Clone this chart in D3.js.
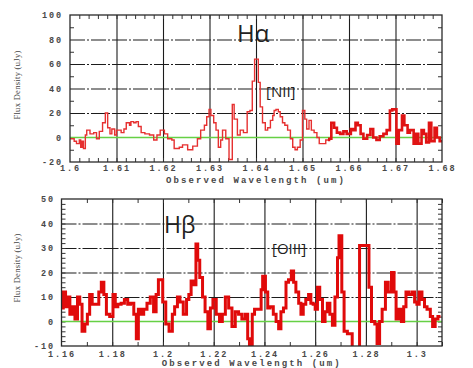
<!DOCTYPE html>
<html>
<head>
<meta charset="utf-8">
<script src="https://cdn.jsdelivr.net/npm/d3@7"></script>
<style>
  body { margin: 0; background: #fff; }
  svg { display: block; }
  .lbl text { font-family: "Liberation Mono", monospace; font-size: 8.5px; font-weight: bold; fill: #484848; letter-spacing: 1.9px; }
</style>
</head>
<body>
<div id="chart"></div>
<script>
// ---- H-alpha panel (top) ----
const haWave = [1.6000,1.6009,1.6014,1.6020,1.6023,1.6026,1.6029,1.6033,1.6036,1.6043,1.6051,1.6057,1.6063,1.6070,
  1.6076,1.6081,1.6086,1.6090,1.6096,1.6100,1.6110,1.6116,1.6121,1.6128,1.6131,1.6137,1.6142,1.6147,1.6153,1.6161,
  1.6171,1.6180,1.6187,1.6194,1.6203,1.6210,1.6219,1.6224,1.6235,1.6242,1.6253,1.6264,1.6274,1.6281,1.6289,1.6294,
  1.6299,1.6303,1.6309,1.6314,1.6319,1.6324,1.6328,1.6335,1.6342,1.6349,1.6353,1.6360,1.6366,1.6373,1.6381,1.6387,
  1.6392,1.6397,1.6405,1.6409,1.6414,1.6420,1.6425,1.6431,1.6436,1.6439,1.6443,1.6448,1.6452,1.6457,1.6462,1.6468,
  1.6474,1.6479,1.6484,1.6489,1.6495,1.6500,1.6505,1.6509,1.6514,1.6519,1.6525,1.6531,1.6536,1.6550,1.6557,1.6562,
  1.6568,1.6574,1.6581,1.6588,1.6595,1.6604,1.6609,1.6614,1.6619,1.6625,1.6631,1.6639,1.6646,1.6652,1.6659,1.6666,
  1.6674,1.6681,1.6688,1.6693,1.6702,1.6707,1.6714,1.6719,1.6726,1.6731,1.6739,1.6744,1.6749,1.6756,1.6761,1.6766,
  1.6772,1.6777,1.6784,1.6789,1.6795,1.6800];
const haFlux = [-1,-3,-5,-2,-8,-3,-9,2,6,3,4,-1,5,12,
  20,8,3,7,2,6,4,7,12,10,13,12,13,9,4,3,
  2,-2,2,6,3,-1,-2,-9,-8,-6,-10,-7,-1,6,10,17,
  23,18,12,6,-8,-2,6,-1,-18,27,15,2,6,4,21,22,
  46,64,45,25,12,6,8,14,18,22,23,21,17,12,10,6,
  -1,-8,-10,-8,-2,22,15,7,14,6,4,0,-5,-2,-1,12,
  8,4,3,5,3,7,6,12,10,3,-1,2,7,0,-2,1,
  3,6,22,23,-5,6,18,10,4,6,-5,3,-5,6,3,-4,
  12,-3,8,0,-3,-3];
const haXTicks = [1.60,1.61,1.62,1.63,1.64,1.65,1.66,1.67,1.68];
const haXLabels = ["1.6","1.61","1.62","1.63","1.64","1.65","1.66","1.67","1.68"];
const haYTicks = [100,80,60,40,20,0,-20];
const haYLabels = ["100","80","60","40","20","0","-20"];

// ---- H-beta panel (bottom) ----
const hbWave = [1.1600,1.1607,1.1616,1.1624,1.1633,1.1642,1.1653,1.1663,1.1672,1.1681,1.1692,1.1702,1.1711,1.1721,
  1.1747,1.1757,1.1767,1.1777,1.1790,1.1803,1.1812,1.1822,1.1835,1.1848,1.1861,1.1872,1.1885,1.1895,1.1903,1.1913,
  1.1924,1.1937,1.1950,1.1963,1.1973,1.1982,1.1999,1.2011,1.2024,1.2037,1.2046,1.2057,1.2067,1.2080,1.2093,1.2102,
  1.2111,1.2122,1.2130,1.2137,1.2145,1.2156,1.2166,1.2177,1.2187,1.2197,1.2210,1.2223,1.2234,1.2246,1.2259,1.2272,
  1.2285,1.2298,1.2311,1.2324,1.2334,1.2341,1.2352,1.2361,1.2387,1.2393,1.2404,1.2413,1.2422,1.2435,1.2446,1.2456,
  1.2465,1.2475,1.2485,1.2495,1.2506,1.2515,1.2524,1.2535,1.2544,1.2553,1.2563,1.2574,1.2583,1.2592,1.2600,1.2609,
  1.2618,1.2629,1.2639,1.2648,1.2658,1.2668,1.2678,1.2688,1.2694,1.2705,1.2714,1.2727,1.2746,1.2775,1.2812,1.2822,
  1.2835,1.2844,1.2854,1.2864,1.2877,1.2888,1.2901,1.2911,1.2919,1.2929,1.2940,1.2949,1.2958,1.2969,1.2982,1.2992,
  1.3001,1.3010,1.3021,1.3031,1.3041,1.3054,1.3063,1.3073,1.3084,1.3094];
const hbFlux = [5.5,12,6,10,3,6,1,10,7,-4,-1,3,11,7,
  12,16,11,3,2,11,6,7,7.5,9,7,7.5,3,-7,5,3,
  5,7.5,10,4,11,17,8,-1,-4,3,6,10,8,3,9,11,
  16.5,15,31.6,25,18,10,4,-3,5.5,9,3,0,3,10,5.5,-2,
  4,3,1,3,-7,-12,3,5,13,18.5,12,5.5,6,3,0,-3,
  4,5.5,16,17,20.6,16,12,7.5,3,7,9,11,7.5,7,5,14,
  9,0,4,7.5,3,-1.5,10,26,35,12,-4,-5,-14,31,14,0,
  -1,-9,0,5,16,12,20,12,1,5,0,6,12,11,12,8,
  7,12,9,6,5,2,-2,1,2,2];
const hbXTicks = [1.16,1.18,1.20,1.22,1.24,1.26,1.28,1.30];
const hbXLabels = ["1.16","1.18","1.2","1.22","1.24","1.26","1.28","1.3"];
const hbYTicks = [50,40,30,20,10,0,-10];
const hbYLabels = ["50","40","30","20","10","0","-10"];

const svg = d3.select("#chart").append("svg").attr("width", 473).attr("height", 368);

function drawPanel(o) {
  const g = svg.append("g");
  const x = d3.scaleLinear().domain(o.xDomain).range([o.left, o.right]);
  const y = d3.scaleLinear().domain(o.yDomain).range([o.bottom, o.top]);
  const w = o.right - o.left, h = o.bottom - o.top;

  // vertical grid (solid)
  g.append("g").attr("transform", `translate(0,${o.bottom})`)
    .call(d3.axisBottom(x).tickValues(o.xTicks.slice(1).filter(v => v < o.xDomain[1] - 1e-6)).tickSize(-h).tickFormat(""))
    .call(a => a.select(".domain").remove())
    .selectAll("line").attr("stroke", "#1c1c1c").attr("stroke-width", 1.1);

  // horizontal grid (dashed)
  g.append("g").attr("transform", `translate(${o.left},0)`)
    .call(d3.axisLeft(y).tickValues(o.yTicks.filter(v => v !== 0 && v > o.yDomain[0] && v < o.yDomain[1])).tickSize(-w).tickFormat(""))
    .call(a => a.select(".domain").remove())
    .selectAll("line").attr("stroke", "#1c1c1c").attr("stroke-width", 1.2).attr("stroke-dasharray", "15,2,2,2");

  // minor ticks, inward on all four sides
  const tk = (axis, tx, ty) => g.append("g").attr("transform", `translate(${tx},${ty})`)
    .call(axis.tickSize(-4).tickFormat(""))
    .call(a => a.select(".domain").remove())
    .selectAll("line").attr("stroke", "#333");
  tk(d3.axisLeft(y).tickValues(o.yMinor), o.left, 0);
  tk(d3.axisRight(y).tickValues(o.yMinor), o.right, 0);
  tk(d3.axisBottom(x).tickValues(o.xMinor), 0, o.bottom);
  tk(d3.axisTop(x).tickValues(o.xMinor), 0, o.top);

  // zero level
  g.append("line").attr("x1", o.left).attr("x2", o.right).attr("y1", y(0)).attr("y2", y(0))
    .attr("stroke", "#66d044").attr("stroke-width", 1.3);

  // spectrum, drawn in pieces with different line weights
  const pts = o.wave.map((v, i) => [v, o.flux[i]]);
  const line = d3.line().x(d => x(d[0])).y(d => y(d[1])).curve(d3.curveStepAfter);
  o.pieces.forEach((p, k) => {
    const id = o.id + "clip" + k;
    svg.append("clipPath").attr("id", id).append("rect")
      .attr("x", x(p.from)).attr("y", o.top).attr("width", x(p.to) - x(p.from)).attr("height", h);
    g.append("path").attr("d", line(pts)).attr("clip-path", `url(#${id})`)
      .attr("fill", "none").attr("stroke", p.color).attr("stroke-width", p.width);
  });

  // frame
  g.append("rect").attr("x", o.left).attr("y", o.top).attr("width", w).attr("height", h)
    .attr("fill", "none").attr("stroke", "#2a2a2a").attr("stroke-width", 1.3);

  // tick labels
  g.append("g").attr("class", "lbl").attr("transform", `translate(0,${o.bottom})`)
    .call(d3.axisBottom(x).tickValues(o.xTicks).tickFormat((d, i) => o.xLabels[i]).tickSize(0).tickPadding(o.xPad))
    .call(a => a.select(".domain").remove());
  g.append("g").attr("class", "lbl").attr("transform", `translate(${o.left},0)`)
    .call(d3.axisLeft(y).tickValues(o.yTicks).tickFormat((d, i) => o.yLabels[i]).tickSize(0).tickPadding(o.yPad))
    .call(a => a.select(".domain").remove());

  // axis titles
  g.append("text").attr("x", (o.left + o.right) / 2).attr("y", o.bottom + o.titleGap)
    .attr("text-anchor", "middle").attr("font-family", "Liberation Mono, monospace").attr("font-size", 9)
    .attr("font-weight", "bold").attr("letter-spacing", 2.1).attr("fill", "#484848")
    .text("Observed Wavelength (um)");
  g.append("text").attr("transform", `translate(20,${o.titleY}) rotate(-90)`)
    .attr("text-anchor", "middle").attr("font-family", "Liberation Serif, serif").attr("font-size", 8.5)
    .attr("fill", "#444").attr("letter-spacing", 0.3).text("Flux Density (uJy)");

  // line annotations
  o.notes.forEach(n => g.append("text").attr("x", n.x).attr("y", n.y)
    .attr("font-family", "Open Sans, sans-serif").attr("font-size", n.size).attr("fill", "#222").text(n.text));
}

drawPanel({
  id: "ha", left: 70, right: 442, top: 15, bottom: 162,
  xDomain: [1.6, 1.68], yDomain: [-20, 100],
  xTicks: haXTicks, xLabels: haXLabels, yTicks: haYTicks, yLabels: haYLabels, xPad: 3, yPad: 7,
  xMinor: d3.range(1.602, 1.68, 0.002), yMinor: [-10, 10, 30, 50, 70, 90],
  wave: haWave, flux: haFlux,
  pieces: [{ from: 1.6, to: 1.6555, width: 1.4, color: "#e63030" },
           { from: 1.6555, to: 1.68, width: 2.6, color: "#e01414" }],
  titleY: 85, titleGap: 21,
  notes: [{ text: "Hα", x: 237, y: 42, size: 24 }, { text: "[NII]", x: 266, y: 97, size: 15 }]
});

drawPanel({
  id: "hb", left: 61.5, right: 442, top: 199, bottom: 346,
  xDomain: [1.16, 1.31], yDomain: [-10, 50],
  xTicks: hbXTicks, xLabels: hbXLabels, yTicks: hbYTicks, yLabels: hbYLabels, xPad: 5, yPad: 6.5,
  xMinor: d3.range(1.17, 1.31, 0.01), yMinor: d3.range(-8, 50, 2),
  wave: hbWave, flux: hbFlux,
  pieces: [{ from: 1.16, to: 1.31, width: 3, color: "#e00a0a" }],
  titleY: 268, titleGap: 19.5,
  notes: [{ text: "Hβ", x: 164, y: 233, size: 23 }, { text: "[OIII]", x: 272, y: 254, size: 15 }]
});
</script>
</body>
</html>
